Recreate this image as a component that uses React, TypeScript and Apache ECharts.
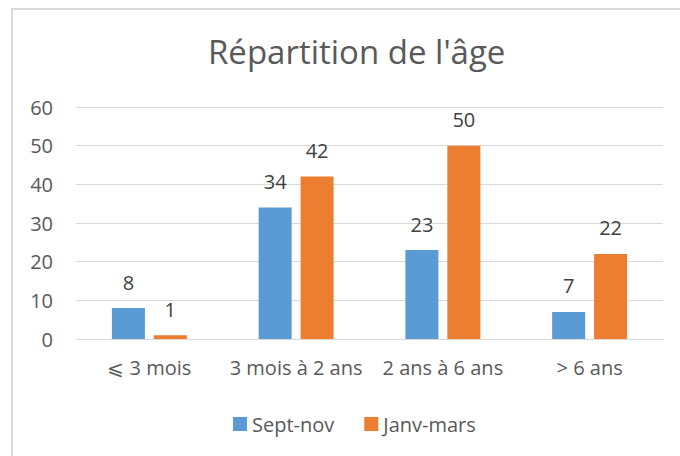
import React, { useEffect, useRef } from "react";
import * as echarts from "echarts";

const categories = ["⩽ 3 mois", "3 mois à 2 ans", "2 ans à 6 ans", "> 6 ans"];
const septNov = [8, 34, 23, 7];
const janvMars = [1, 42, 50, 22];
const seriesNames = ["Sept-nov", "Janv-mars"];
const chartTitle = "Répartition de l'âge";

const FONT = "'Open Sans', 'Noto Sans', sans-serif";

export default function App() {
  const ref = useRef<HTMLDivElement>(null);
  useEffect(() => {
    if (!ref.current) return;
    const chart = echarts.init(ref.current, null, { renderer: "svg" });
    chart.setOption({
      animation: false,
      backgroundColor: "#ffffff",
      textStyle: { fontFamily: FONT },
      title: {
        text: chartTitle,
        left: 203,
        top: 30,
        textStyle: { fontFamily: FONT, fontSize: 33, fontWeight: "normal", color: "#595959" },
      },
      graphic: [
        {
          type: "rect",
          shape: { x: 12, y: 9, width: 700, height: 500 },
          style: { fill: "none", stroke: "#d9d9d9", lineWidth: 2 },
          silent: true,
        },
      ],
      legend: {
        data: seriesNames,
        top: 409,
        left: 228,
        itemWidth: 14,
        itemHeight: 14,
        itemGap: 30,
        icon: "rect",
        textStyle: { fontFamily: FONT, fontSize: 20, color: "#595959" },
      },
      grid: { left: 76, right: 17, top: 107, bottom: 117, containLabel: false },
      xAxis: {
        type: "category",
        data: categories,
        axisLine: { lineStyle: { color: "#d9d9d9", width: 1 } },
        axisTick: { show: false },
        axisLabel: { fontFamily: FONT, fontSize: 20, color: "#595959", margin: 18, interval: 0 },
      },
      yAxis: {
        type: "value",
        min: 0,
        max: 60,
        interval: 10,
        axisLine: { show: false },
        axisTick: { show: false },
        splitLine: { lineStyle: { color: "#d9d9d9", width: 1 } },
        axisLabel: { fontFamily: FONT, fontSize: 20, color: "#595959", margin: 23 },
      },
      series: [
        {
          name: seriesNames[0],
          type: "bar",
          data: septNov,
          barWidth: "22.5%",
          barGap: "27%",
          itemStyle: { color: "#5b9bd5" },
          label: { show: true, position: "top", distance: 16, fontFamily: FONT, fontSize: 20, color: "#404040" },
        },
        {
          name: seriesNames[1],
          type: "bar",
          data: janvMars,
          barWidth: "22.5%",
          itemStyle: { color: "#ed7d31" },
          label: { show: true, position: "top", distance: 16, fontFamily: FONT, fontSize: 20, color: "#404040" },
        },
      ],
    });
    return () => chart.dispose();
  }, []);
  return <div ref={ref} style={{ width: 680, height: 456, position: "absolute", left: 0, top: 0 }} />;
}
